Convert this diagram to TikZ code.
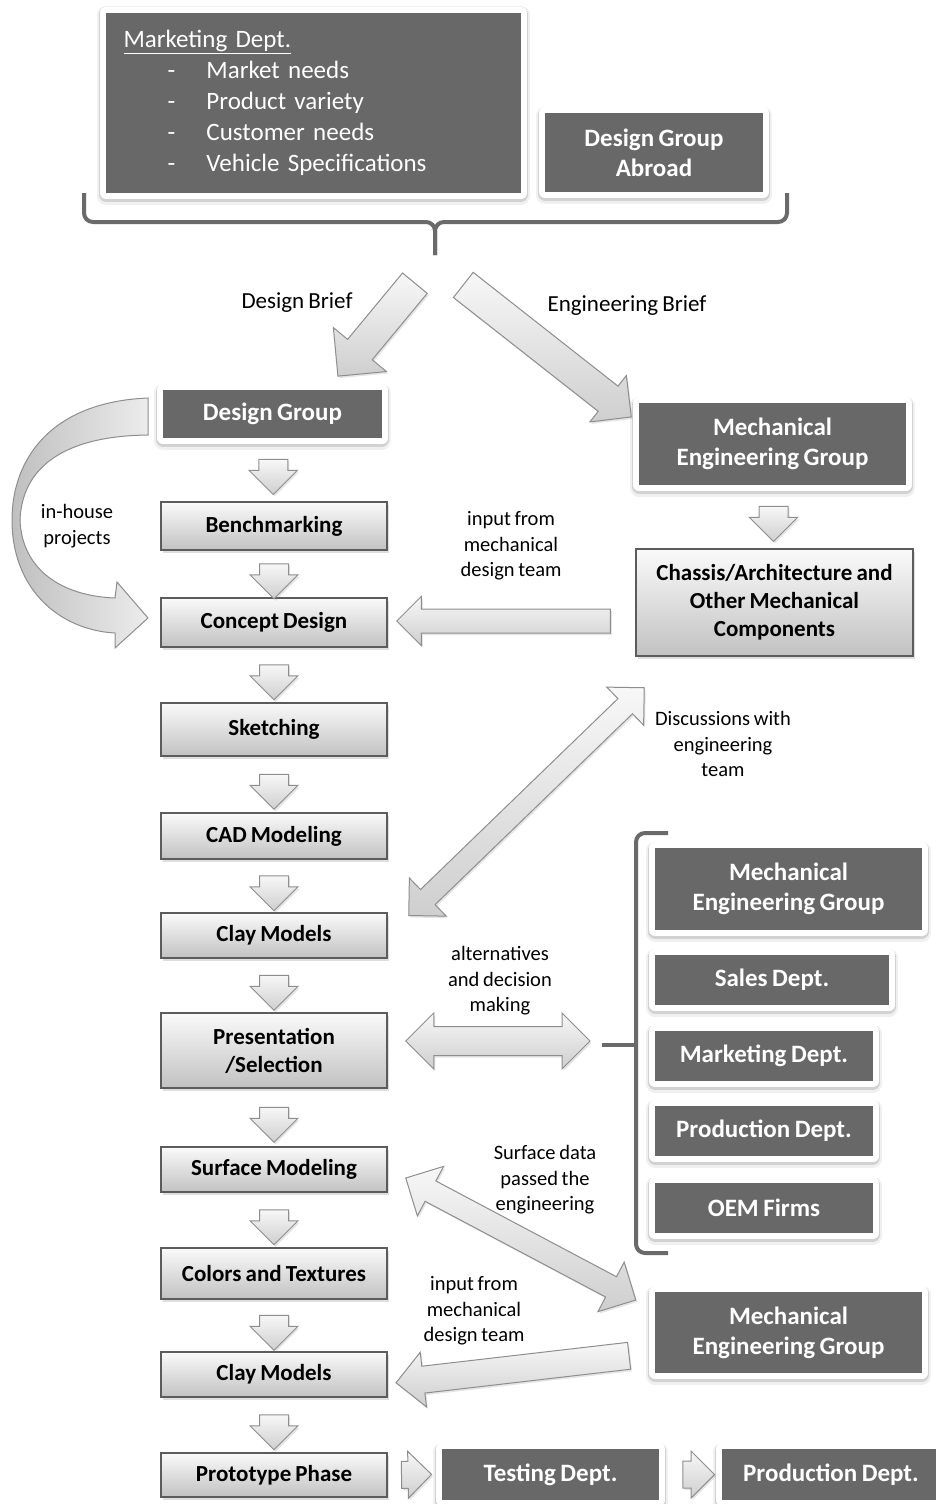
\documentclass[tikz,border=0pt]{standalone}
\usepackage{fontspec}
\setmainfont{Carlito}[WordSpace=0.8]
\usetikzlibrary{calc,shapes.arrows,shadows}

\definecolor{boxgray}{HTML}{686868}
\definecolor{edgegray}{HTML}{5C5C5C}
\definecolor{arrowedge}{HTML}{8E8E8E}
\definecolor{bracegray}{HTML}{6A6A6A}

\tikzset{
  darkbox/.style 2 args={rectangle, fill=boxgray, text=white,
    preaction={draw=black, opacity=.06, line width=18pt, line join=round, transform canvas={yshift=-2.5pt}},
    preaction={draw=black, opacity=.12, line width=14pt, line join=round, transform canvas={yshift=-1.5pt}},
    preaction={draw=white, line width=12pt, line join=round},
    font=\fontsize{25}{30}\selectfont\bfseries, align=center, inner sep=0pt,
    minimum width=#1pt, minimum height=#2pt},
  lightbox/.style 2 args={rectangle, draw=edgegray, line width=1.5pt, top color=gray!4, bottom color=gray!48,
    font=\fontsize{23}{28}\selectfont\bfseries, align=center, inner sep=0pt,
    minimum width=#1pt, minimum height=#2pt,
    drop shadow={shadow xshift=2pt, shadow yshift=-3pt, opacity=.25}},
  note/.style={font=\fontsize{20.5}{25.5}\selectfont, align=center, inner sep=0pt},
  brief/.style={font=\fontsize{23}{28}\selectfont, inner sep=0pt},
  fatbase/.style={draw=arrowedge, line width=1pt, top color=gray!6, bottom color=gray!38,
    inner xsep=0pt, minimum width=0pt,
    drop shadow={shadow xshift=1.5pt, shadow yshift=-2pt, opacity=.2}},
  fatarrow/.style 2 args={fatbase, single arrow, inner ysep=#1pt, single arrow head extend=#2pt},
  twoway/.style 2 args={fatbase, double arrow, inner ysep=#1pt, double arrow head extend=#2pt},
  bracket/.style={draw=bracegray, line width=4pt, rounded corners=9pt},
  curvedband/.style={draw=arrowedge, line width=1pt, left color=gray!50, right color=gray!15}
}

\newcommand\blockarrow[4][fatarrow={12}{12}]{%
  \path let \p1=#3, \p2=#4, \n1={atan2(\y2-\y1,\x2-\x1)}, \n2={veclen(\x2-\x1,\y2-\y1)} in
    node[#1, minimum height=\n2, rotate=\n1] (#2) at ($(\p1)!.5!(\p2)$) {};}
\newcommand\stepdown[3]{%
  \node[fatarrow={14}{9.5}, minimum height=35pt, rotate=-90] (#1) at ($(#2.south)!.5!(#3.north)$) {};}

\begin{document}
\begin{tikzpicture}[x=1pt,y=-1pt]
  \useasboundingbox[fill=white] (0,0) rectangle (935,1504);

  \node[darkbox={415}{180}, align=left, text width=380pt, font=\fontsize{25}{31}\selectfont] (mkt) at (313.5,103)
    {\underline{Marketing Dept.}\\
     \makebox[83pt][l]{\hspace*{44pt}-}Market needs\\
     \makebox[83pt][l]{\hspace*{44pt}-}Product variety\\
     \makebox[83pt][l]{\hspace*{44pt}-}Customer needs\\
     \makebox[83pt][l]{\hspace*{44pt}-}Vehicle Specifications};
  \node[darkbox={218}{79}] (abroad) at (654,152.5) {Design Group\\Abroad};

  \node[darkbox={219}{48}] (dgroup) at (272.5,414) {Design Group};
  \node[lightbox={226}{48}] (bench) at (274,526) {Benchmarking};
  \node[lightbox={226}{49}] (concept) at (274,622.5) {Concept Design};
  \node[lightbox={226}{53}] (sketch) at (274,729.5) {Sketching};
  \node[lightbox={226}{46}] (cad) at (274,836) {CAD Modeling};
  \node[lightbox={226}{45}] (clay1) at (274,935.5) {Clay Models};
  \node[lightbox={226}{75}] (present) at (274,1050.5) {Presentation\\/Selection};
  \node[lightbox={226}{45}] (surface) at (274,1169.5) {Surface Modeling};
  \node[lightbox={226}{51}] (colors) at (274,1273.5) {Colors and Textures};
  \node[lightbox={226}{45}] (clay2) at (274,1374.5) {Clay Models};
  \node[lightbox={226}{44}] (proto) at (274,1475) {Prototype Phase};

  \node[darkbox={267}{82}] (mech1) at (772.5,444) {Mechanical\\Engineering Group};
  \node[lightbox={277}{107}] (chassis) at (774.5,602.5) {Chassis/Architecture and\\Other Mechanical\\Components};

  \node[darkbox={267}{82}] (mech2) at (788.5,889) {Mechanical\\Engineering Group};
  \node[darkbox={234}{50}] (sales) at (772,980) {Sales Dept.};
  \node[darkbox={218}{50}] (mktdept) at (764,1056) {Marketing Dept.};
  \node[darkbox={218}{50}] (prod) at (764,1131) {Production Dept.};
  \node[darkbox={218}{50}] (oem) at (764,1208) {OEM Firms};
  \node[darkbox={267}{81}] (mech3) at (788.5,1332.5) {Mechanical\\Engineering Group};

  \node[darkbox={217}{51}] (testing) at (550.5,1474.5) {Testing Dept.};
  \node[darkbox={218}{51}] (proddept) at (831,1474.5) {Production Dept.};

  \coordinate (split) at (435,255);
  \coordinate (dbfrom) at (420,277);
  \coordinate (dbto) at (343,370);
  \coordinate (ebfrom) at (457,280);
  \coordinate (ebto) at (625,412);
  \coordinate (panel) at (602,1045);

  \draw[bracket] (84,193) -- (84,222) -- (split |- 0,222) -- (split);
  \draw[bracket] (787,193) -- (787,222) -- (split |- 0,222) -- (split);
  \draw[bracket] (668,833) -- (636,833) -- (636,1253) -- (668,1253);
  \draw[bracket] (636,1045) -- (panel);

  \blockarrow[fatarrow={15.5}{18.5}]{designbrief}{(dbfrom)}{(dbto)}
  \blockarrow[fatarrow={15.5}{13.5}]{engbrief}{(ebfrom)}{(ebto)}

  \stepdown{a1}{dgroup}{bench}
  \stepdown{a2}{bench}{concept}
  \stepdown{a3}{concept}{sketch}
  \stepdown{a4}{sketch}{cad}
  \stepdown{a5}{cad}{clay1}
  \stepdown{a6}{clay1}{present}
  \stepdown{a7}{present}{surface}
  \stepdown{a8}{surface}{colors}
  \stepdown{a9}{colors}{clay2}
  \stepdown{a10}{clay2}{proto}
  \stepdown{a11}{mech1}{chassis}

  \blockarrow[fatarrow={11.5}{12.5}]{mechinput}{($(chassis.west)+(-19,18.5)$)}{($(concept.east)+(15,-1.5)$)}
  \blockarrow[twoway={10}{16}]{discuss}{($(clay1.east)+(21,-20)$)}{($(chassis.south west)+(9,31)$)}
  \blockarrow[twoway={14}{13.5}]{choose}{($(present.east)+(18,-9.5)$)}{($(panel)+(-12,-4)$)}
  \blockarrow[twoway={11}{16.5}]{surfdata}{($(surface.east)+(18,8.5)$)}{($(mech3.west)+(-19,-32.5)$)}
  \blockarrow[fatarrow={13}{14}]{mechinput2}{($(mech3.west)+(-19,22.5)$)}{($(clay2.east)+(15,7.5)$)}
  \blockarrow[fatarrow={13}{10}]{totest}{($(proto.east)+(7,0)$)}{($(testing.west)+(-17,0)$)}
  \blockarrow[fatarrow={13}{10}]{toprod}{($(testing.east)+(17,0)$)}{($(proddept.west)+(-14,0)$)}

  \draw[curvedband] (148,398) .. controls (50,402) and (12,460) .. (12,520)
    .. controls (12,590) and (60,630) .. (115,633) -- (115,648) -- (148,618) -- (117,582) -- (115,598)
    .. controls (62,596) and (22,570) .. (20,520) .. controls (22,470) and (60,436) .. (148,435) -- cycle;

  \node[brief] (dblabel) at (297,303) {Design Brief};
  \node[brief] (eblabel) at (627,306) {Engineering Brief};
  \node[note] (inhouse) at (77,526) {in-house\\projects};
  \node[note] (input1) at (511,546) {input from\\mechanical\\design team};
  \node[note] (discusslabel) at (723,744) {Discussions with\\engineering\\team};
  \node[note] (altlabel) at (500,981) {alternatives\\and decision\\making};
  \node[note] (surflabel) at (545,1180) {Surface data\\passed the\\engineering};
  \node[note] (input2) at (474,1311) {input from\\mechanical\\design team};
\end{tikzpicture}
\end{document}
